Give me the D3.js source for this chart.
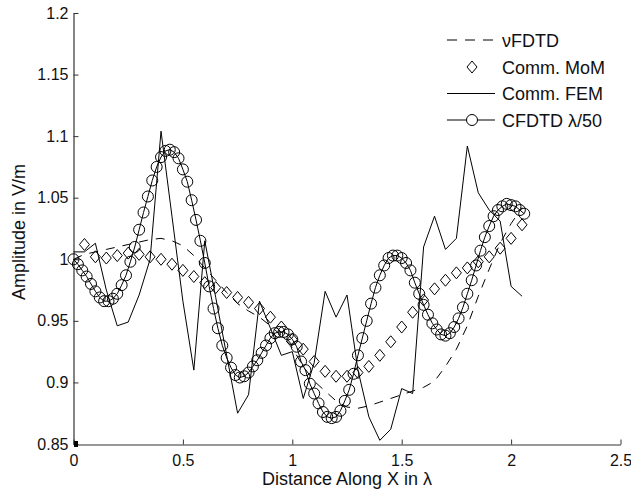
<!DOCTYPE html>
<html>
<head>
<meta charset="utf-8">
<script src="https://cdn.jsdelivr.net/npm/d3@7"></script>
<style>
  body { margin: 0; background: #fff; }
  svg { display: block; font-family: "Liberation Sans", Arial, Helvetica, sans-serif; }
</style>
</head>
<body>
<svg id="chart" width="631" height="492"></svg>
<script>
// tick labels
const xTicks = [0, 0.5, 1, 1.5, 2, 2.5];
const yTicks = [0.85, 0.9, 0.95, 1, 1.05, 1.1, 1.15, 1.2];

// CFDTD lambda/50, sampled every 0.02 lambda
const cfdtdStep = 0.02;
const cfdtdValues = [
  1.000, 0.996, 0.991, 0.986, 0.980, 0.974, 0.969, 0.966, 0.966, 0.968,
  0.972, 0.979, 0.987, 0.998, 1.010, 1.024, 1.038, 1.051, 1.064, 1.075,
  1.083, 1.088, 1.089, 1.087, 1.082, 1.073, 1.063, 1.048, 1.032, 1.015,
  0.997, 0.978, 0.960, 0.944, 0.930, 0.920, 0.912, 0.906, 0.904, 0.905,
  0.908, 0.913, 0.918, 0.924, 0.930, 0.936, 0.940, 0.941, 0.941, 0.939,
  0.935, 0.929, 0.917, 0.910, 0.899, 0.891, 0.883, 0.876, 0.872, 0.871,
  0.872, 0.877, 0.885, 0.894, 0.907, 0.922, 0.936, 0.950, 0.964, 0.977,
  0.987, 0.995, 1.001, 1.003, 1.003, 1.001, 0.997, 0.991, 0.981, 0.972,
  0.963, 0.955, 0.948, 0.943, 0.939, 0.938, 0.940, 0.945, 0.952, 0.961,
  0.972, 0.983, 0.995, 1.007, 1.018, 1.027, 1.035, 1.040, 1.043, 1.045,
  1.044, 1.043, 1.040, 1.037
];

// Comm. MoM, every 0.05 lambda starting at 0.05
const momStart = 0.05;
const momStep = 0.05;
const momValues = [
  1.012, 1.002, 1.001, 1.003, 1.005, 1.004, 1.002, 1.000, 0.996, 0.991,
  0.986, 0.981, 0.977, 0.973, 0.969, 0.965, 0.960, 0.953, 0.945, 0.935,
  0.927, 0.917, 0.909, 0.905, 0.905, 0.908, 0.913, 0.922, 0.933, 0.945,
  0.957, 0.967, 0.976, 0.983, 0.989, 0.993, 0.998, 1.002, 1.009, 1.017,
  1.028
];

// Comm. FEM, every 0.05 lambda
const femStep = 0.05;
const femValues = [
  1.006, 1.006, 1.013, 0.975, 0.946, 0.949, 0.971, 1.000, 1.104, 1.035,
  0.966, 0.910, 1.015, 0.969, 0.922, 0.875, 0.890, 0.966, 0.944, 0.922,
  0.925, 0.887, 0.916, 0.974, 0.953, 0.971, 0.910, 0.872, 0.853, 0.862,
  0.895, 0.891, 1.010, 1.035, 1.008, 1.017, 1.092, 1.054, 1.040, 1.031,
  0.978, 0.970
];

// vFDTD, every 0.05 lambda
const vfdtdStep = 0.05;
const vfdtdValues = [
  1.000, 1.004, 1.006, 1.008, 1.010, 1.012, 1.014, 1.016, 1.017, 1.015,
  1.011, 1.003, 0.993, 0.983, 0.973, 0.964, 0.958, 0.953, 0.946, 0.938,
  0.928, 0.913, 0.901, 0.893, 0.885, 0.880, 0.879, 0.881, 0.884, 0.887,
  0.890, 0.893, 0.896, 0.901, 0.913, 0.927, 0.946, 0.970, 0.992, 1.013,
  1.029, 1.042
];

// little filled square sitting on the origin
const originMark = [[0, 0.85]];

const legendNames = ["\u03bdFDTD", "Comm. MoM", "Comm. FEM", "CFDTD \u03bb/50"];

const svg = d3.select("#chart");

const x = d3.scaleLinear().domain([0, 2.5]).range([73.5, 620.5]);
const y = d3.scaleLinear().domain([0.85, 1.2]).range([444, 13]);

// turn value lists into [x, y] pairs
const toPts = (vals, start, step) => vals.map((v, i) => [+(start + i * step).toFixed(3), v]);
const cfdtd = toPts(cfdtdValues, 0, cfdtdStep);
const mom = toPts(momValues, momStart, momStep);
const fem = toPts(femValues, 0, femStep);
const vfdtd = toPts(vfdtdValues, 0, vfdtdStep);

const line = d3.line().x(d => x(d[0])).y(d => y(d[1]));

// axes (ticks point inwards, no box)
const fmt = d => String(d);
const xAxis = svg.append("g")
    .attr("transform", `translate(0, ${y(0.85) + 0.5})`)
    .call(d3.axisBottom(x).tickValues(xTicks).tickFormat(fmt).tickSizeInner(-5).tickSizeOuter(0).tickPadding(10));
const yAxis = svg.append("g")
    .attr("transform", `translate(${x(0)}, 0)`)
    .call(d3.axisLeft(y).tickValues(yTicks).tickFormat(fmt).tickSizeInner(-5).tickSizeOuter(0).tickPadding(5));

[xAxis, yAxis].forEach(g => {
    g.select(".domain").attr("stroke", "#333").attr("stroke-width", 1.2);
    g.selectAll(".tick line").attr("stroke", "#333");
    g.selectAll(".tick text").attr("fill", "#111").style("font-size", "16px");
});

// axis titles
svg.append("text")
    .attr("x", 347).attr("y", 485)
    .attr("text-anchor", "middle")
    .style("font-size", "18px")
    .attr("fill", "#111")
    .text("Distance Along X in \u03bb");

svg.append("text")
    .attr("transform", "translate(25, 232) rotate(-90)")
    .attr("text-anchor", "middle")
    .style("font-size", "18px")
    .attr("fill", "#111")
    .text("Amplitude in V/m");

const plot = svg.append("g");

// vFDTD dashed
plot.append("path").datum(vfdtd)
    .attr("d", line)
    .attr("fill", "none").attr("stroke", "#000").attr("stroke-width", 1)
    .attr("stroke-dasharray", "9,8");

// FEM solid
plot.append("path").datum(fem)
    .attr("d", line)
    .attr("fill", "none").attr("stroke", "#000").attr("stroke-width", 1);

// MoM diamonds
const diamond = "M0,-6L5,0L0,6L-5,0Z";
plot.selectAll(".mom").data(mom).enter().append("path")
    .attr("class", "mom")
    .attr("transform", d => `translate(${x(d[0])}, ${y(d[1])})`)
    .attr("d", diamond)
    .attr("fill", "none").attr("stroke", "#000").attr("stroke-width", 1);

// CFDTD line with open circles
plot.append("path").datum(cfdtd)
    .attr("d", line)
    .attr("fill", "none").attr("stroke", "#000").attr("stroke-width", 1);
plot.selectAll(".cf").data(cfdtd).enter().append("circle")
    .attr("class", "cf")
    .attr("cx", d => x(d[0])).attr("cy", d => y(d[1]))
    .attr("r", 5.5)
    .attr("fill", "none").attr("stroke", "#000").attr("stroke-width", 1);

plot.selectAll(".orig").data(originMark).enter().append("rect")
    .attr("class", "orig")
    .attr("x", d => x(d[0]) + 0.5).attr("y", d => y(d[1]) - 3)
    .attr("width", 4).attr("height", 6)
    .attr("fill", "#000");

// legend
const legRows = [40, 67, 93.5, 120];
const leg = svg.append("g");
legendNames.forEach((name, i) => {
    const cy = legRows[i];
    if (i !== 1) {
        leg.append("line")
            .attr("x1", 447).attr("x2", 495).attr("y1", cy).attr("y2", cy)
            .attr("stroke", "#000").attr("stroke-width", 1)
            .attr("stroke-dasharray", i === 0 ? "10,8" : null);
    }
    if (i === 1) {
        leg.append("path").attr("d", diamond)
            .attr("transform", `translate(472, ${cy})`)
            .attr("fill", "none").attr("stroke", "#000");
    }
    if (i === 3) {
        leg.append("circle").attr("cx", 472).attr("cy", cy).attr("r", 5.5)
            .attr("fill", "#fff").attr("stroke", "#000");
    }
    leg.append("text")
        .attr("x", 502).attr("y", cy + 6.5)
        .style("font-size", "18px")
        .attr("fill", "#111")
        .text(name);
});
</script>
</body>
</html>
